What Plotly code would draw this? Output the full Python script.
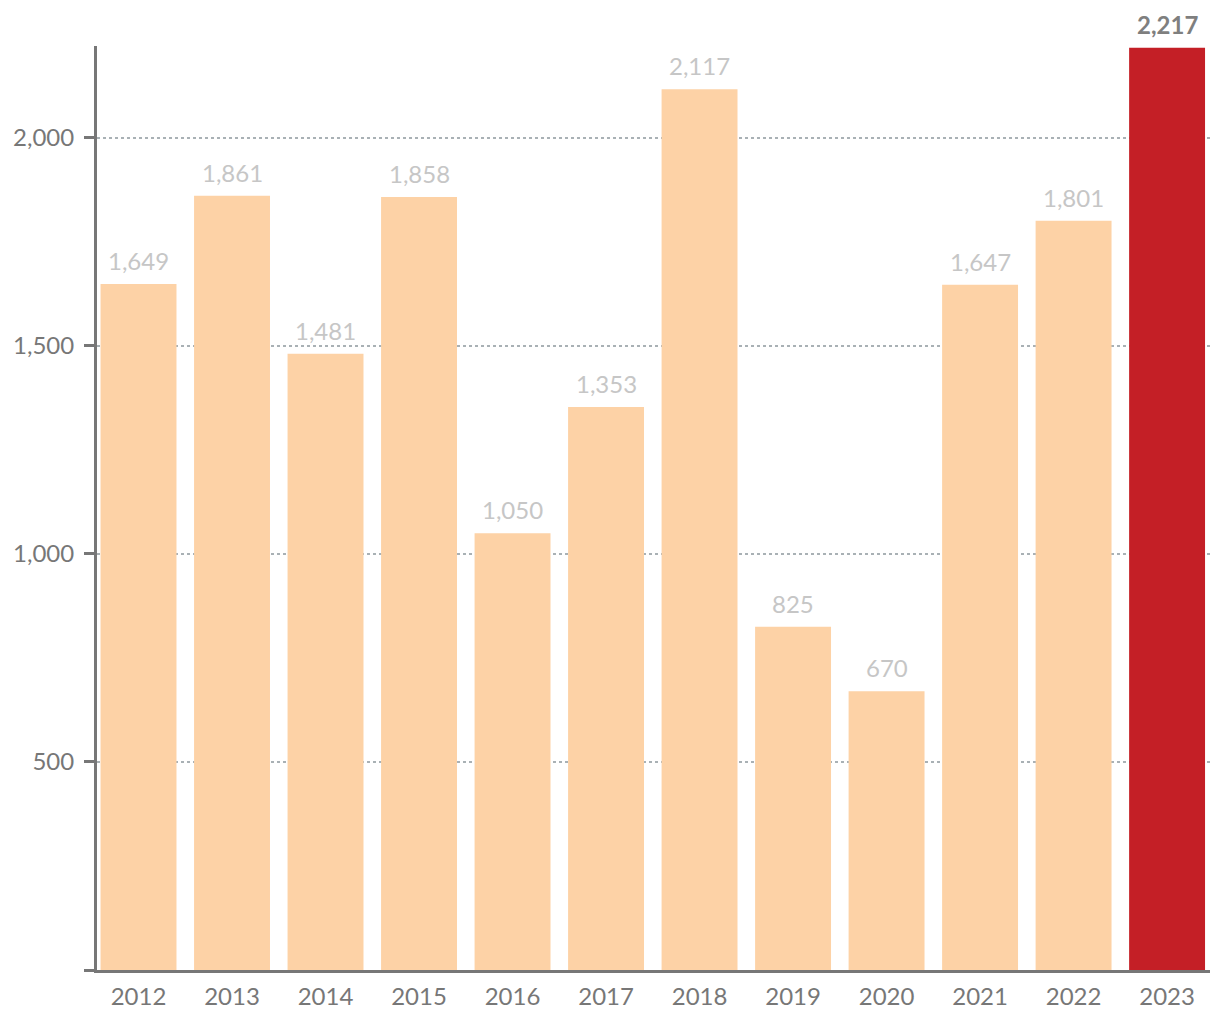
import plotly.graph_objects as go

years = ["2012", "2013", "2014", "2015", "2016", "2017", "2018", "2019", "2020", "2021", "2022", "2023"]
values = [1649, 1861, 1481, 1858, 1050, 1353, 2117, 825, 670, 1647, 1801, 2217]
y_tickvals = [0, 500, 1000, 1500, 2000]
y_ticktext = ["", "500", "1,000", "1,500", "2,000"]

highlight = "2023"
colors = ["#C41F26" if y == highlight else "#FDD2A6" for y in years]

FONT = "Lato"
FS = 24

fig = go.Figure()
fig.add_trace(go.Bar(x=years, y=values, marker=dict(color=colors, line=dict(width=0)),
                     hoverinfo="x+y"))

for i, (y, v) in enumerate(zip(years, values)):
    hl = (y == highlight)
    fig.add_annotation(
        x=i, y=v, xref="x", yref="y", text=(f"<b>{v:,}</b>" if hl else f"{v:,}"),
        showarrow=False, yanchor="bottom", yshift=7,
        font=dict(family=FONT, size=FS, color="#7f7f7f" if hl else "#c6c6c6"),
    )

# the page body has an 8px margin, so the figure is sized to fit the 1220x1020 window
fig.update_layout(
    width=1212, height=1012,
    margin=dict(l=88.5, r=10, t=38, b=50),
    paper_bgcolor="white", plot_bgcolor="white",
    bargap=0.188,
    showlegend=False,
    font=dict(family=FONT, size=FS, color="#777777"),
    xaxis=dict(
        type="category", range=[-0.444, 11.459],
        showline=True, linecolor="#777777", linewidth=3,
        ticks="", showgrid=False, tickfont=dict(size=FS, color="#777777"),
        ticklabelstandoff=3, automargin=False,
        fixedrange=True,
    ),
    yaxis=dict(
        range=[0, 2221], tickvals=y_tickvals, ticktext=y_ticktext,
        showline=True, linecolor="#777777", linewidth=3,
        ticks="outside", ticklen=10, tickwidth=3, tickcolor="#777777",
        showgrid=True, gridcolor="#a9b1b5", griddash="dot", gridwidth=1.5,
        zeroline=False, tickfont=dict(size=FS, color="#777777"),
        ticklabelstandoff=5, automargin=False,
        fixedrange=True,
    ),
)

fig.write_html("out.html")
